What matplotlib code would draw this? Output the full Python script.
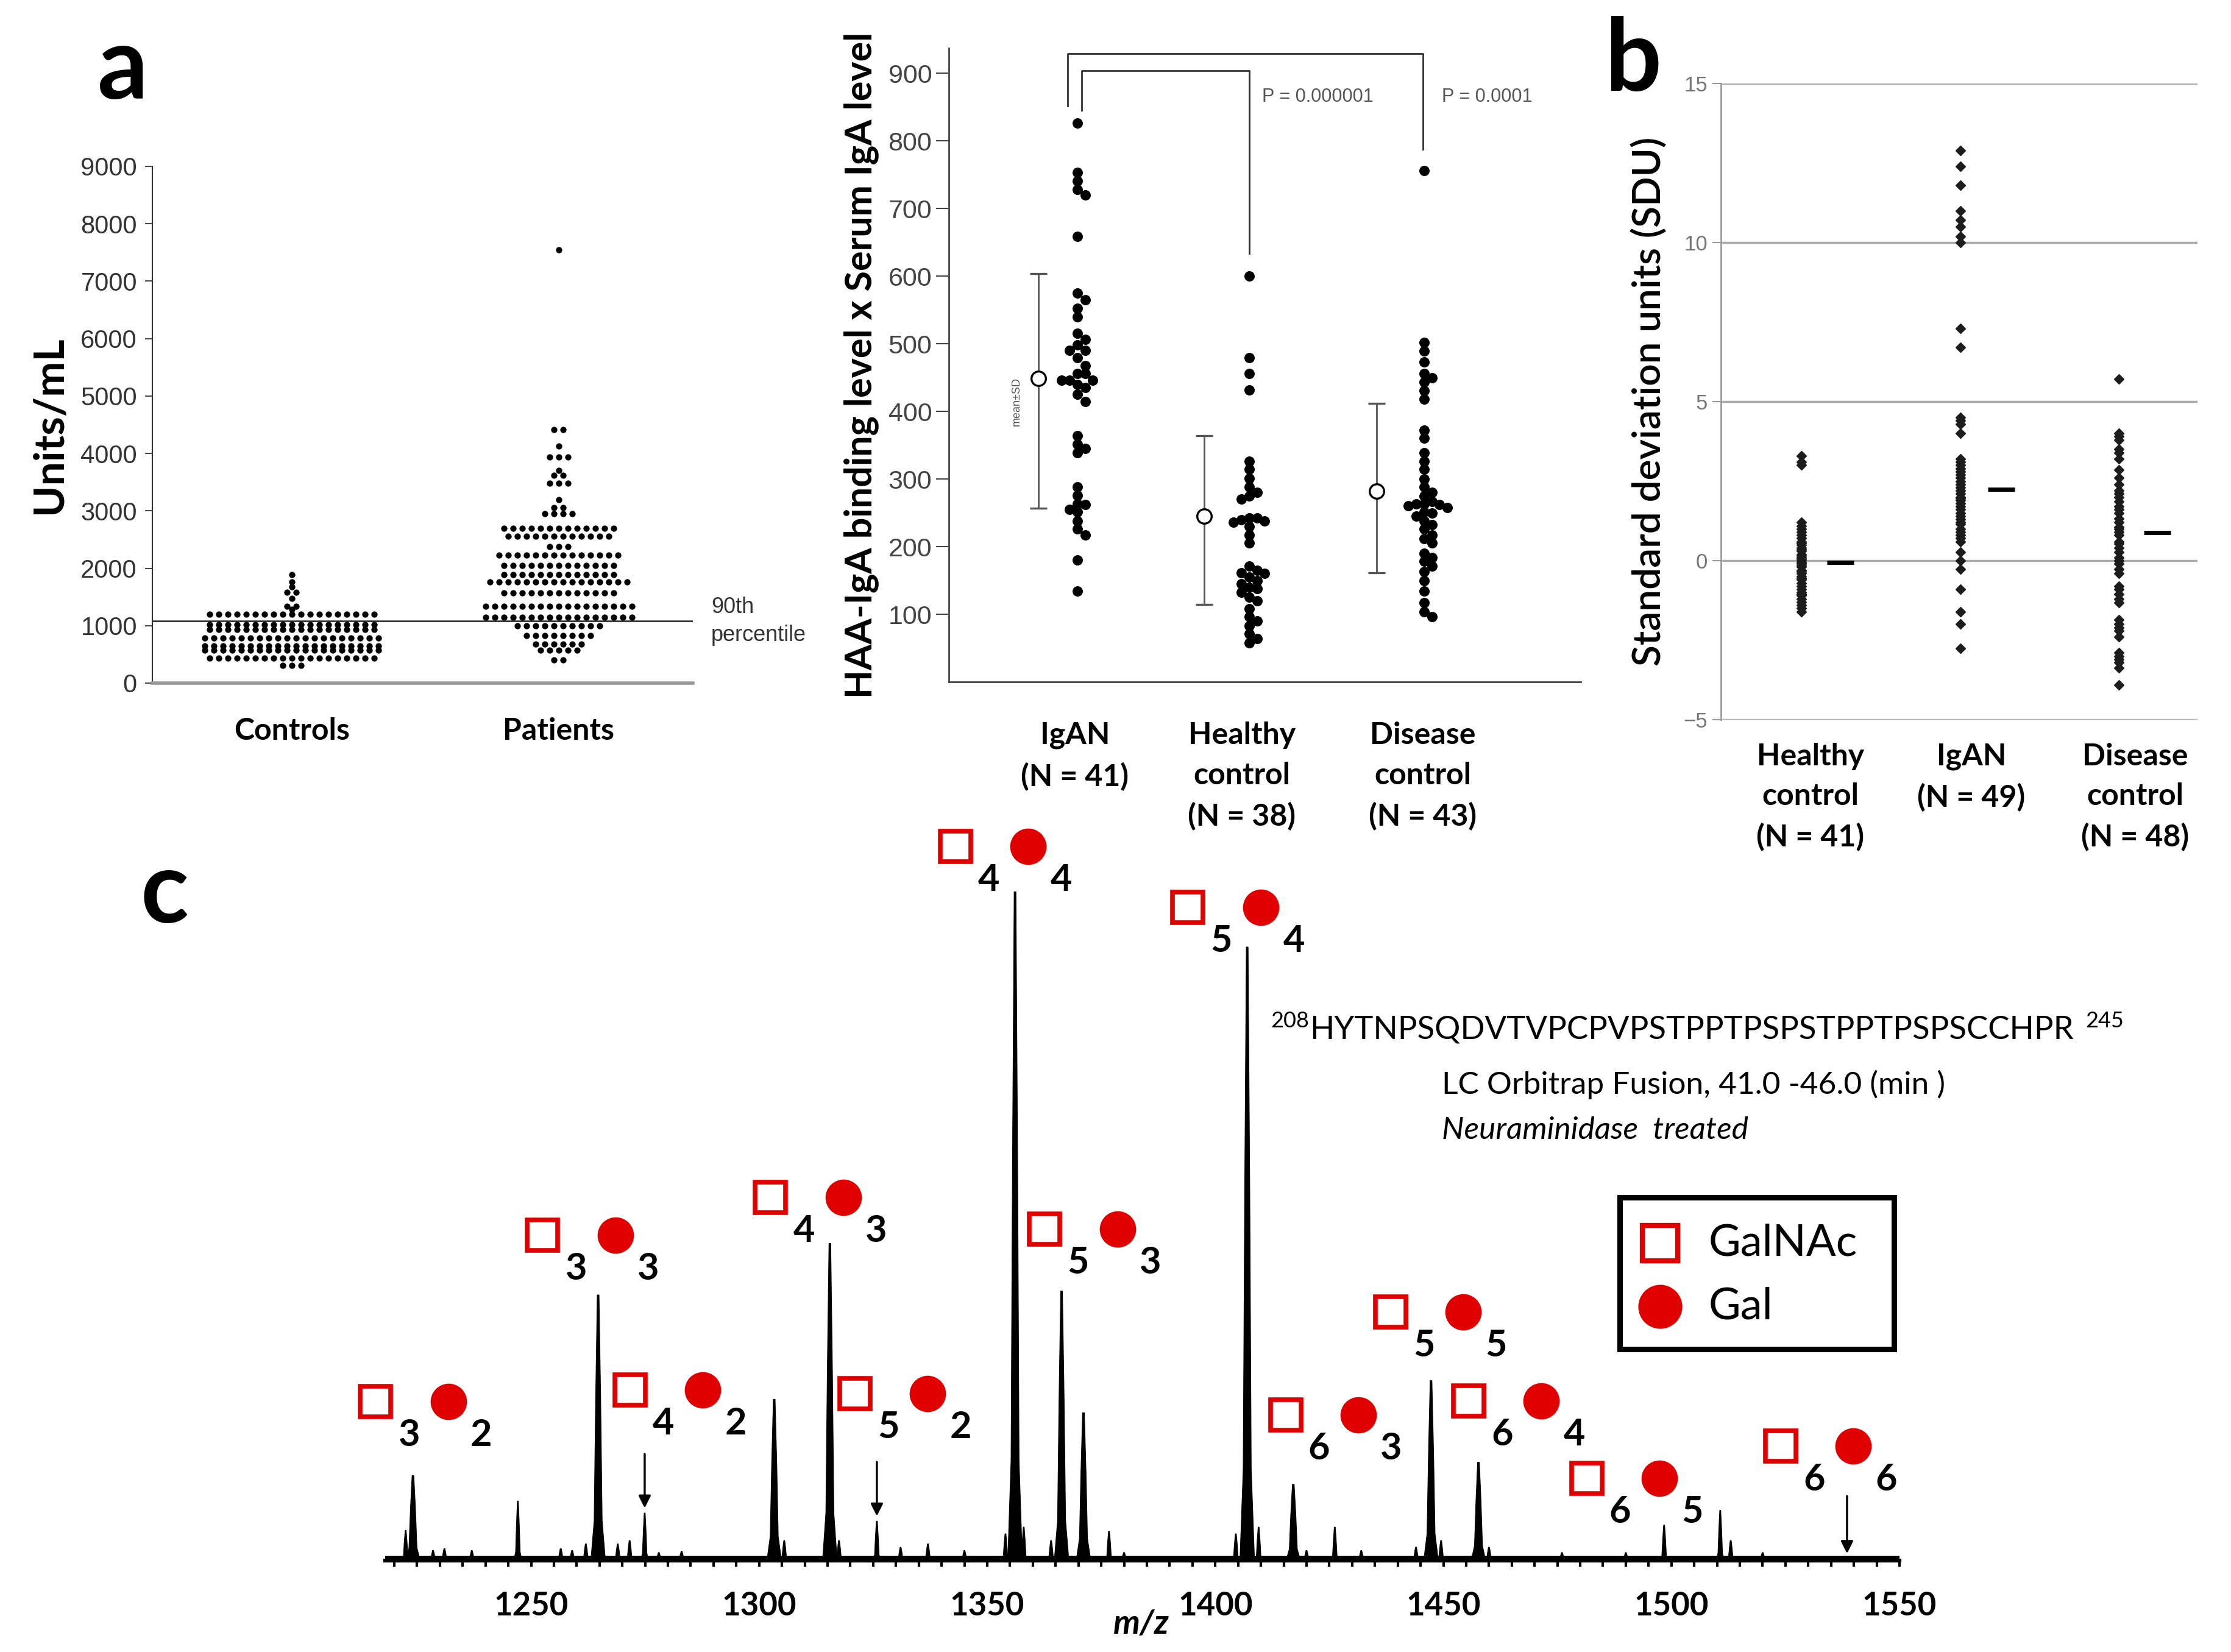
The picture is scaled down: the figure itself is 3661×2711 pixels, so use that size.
import numpy as np
import matplotlib
matplotlib.use('Agg')
import matplotlib.pyplot as plt
from matplotlib.ticker import MultipleLocator
from matplotlib.transforms import offset_copy

plt.rcParams['font.family'] = ['Lato', 'DejaVu Sans']

# ---------------- data ----------------
# panel a: dot-plot rows (level in Units/mL, number of dots in the row)
ctrl_levels = [1890, 1760, 1675, 1580, 1475, 1340, 1285, 1200, 1020, 935, 785, 650, 575, 435, 310]
ctrl_counts = [1, 1, 1, 2, 1, 2, 1, 19, 19, 19, 20, 20, 20, 19, 3]
pat_levels = [7550, 4414, 4131, 3936, 3706, 3618, 3480, 3194, 3056, 2950, 2700, 2557, 2377,
              2230, 2048, 1889, 1760, 1570, 1340, 1146, 997, 828, 679, 573, 403]
pat_counts = [1, 2, 1, 3, 1, 2, 3, 1, 2, 4, 13, 12, 3, 14, 13, 13, 16, 13, 17, 17, 10, 8, 6, 5, 2]
cutoff_90 = 1080
groups_a = ['Controls', 'Patients']

# middle panel: HAA-IgA binding x serum IgA
igan_vals = [826, 753, 741, 728, 720, 659, 575, 565, 552, 540, 515, 506, 498, 490, 490, 479,
             468, 456, 456, 446, 446, 446, 440, 435, 425, 414, 364, 351, 345, 339, 288, 276,
             263, 262, 255, 251, 238, 226, 217, 180, 134]
healthy_vals = [600, 479, 456, 432, 326, 314, 301, 288, 280, 275, 270, 242, 242, 240, 238, 236,
                230, 217, 205, 171, 165, 161, 160, 155, 150, 145, 140, 138, 132, 125, 120, 108,
                96, 90, 83, 71, 64, 58]
disease_vals = [756, 502, 489, 473, 456, 450, 443, 431, 418, 372, 360, 339, 326, 314, 300, 288,
                280, 275, 267, 263, 263, 262, 260, 258, 251, 250, 245, 238, 232, 226, 217, 212,
                205, 190, 184, 178, 171, 163, 150, 134, 117, 104, 96]
mid_means = [449, 245, 282]
mid_sd_hi = [604, 364, 412]
mid_sd_lo = [257, 114, 161]
mid_labels = ['IgAN\n(N = 41)', 'Healthy\ncontrol\n(N = 38)', 'Disease\ncontrol\n(N = 43)']
p_values = ['P = 0.000001', 'P = 0.0001']

# panel b: standard deviation units
sdu_healthy = [3.3, 3.1, 3.0, 1.2, 1.1, 1.0, 0.9, 0.8, 0.7, 0.6, 0.55, 0.5, 0.4, 0.35, 0.3, 0.2,
               0.15, 0.1, 0.05, 0.0, -0.05, -0.1, -0.15, -0.2, -0.3, -0.35, -0.4, -0.5, -0.55,
               -0.6, -0.7, -0.8, -0.9, -1.0, -1.05, -1.1, -1.2, -1.3, -1.4, -1.5, -1.6]
sdu_igan = [12.9, 12.4, 11.8, 11.0, 10.7, 10.5, 10.2, 10.0, 7.3, 6.7, 4.5, 4.4, 4.3, 4.0, 3.2,
            3.1, 3.0, 2.9, 2.8, 2.7, 2.6, 2.5, 2.4, 2.3, 2.2, 2.1, 2.0, 1.95, 1.9, 1.8, 1.7, 1.6,
            1.5, 1.4, 1.3, 1.2, 1.15, 1.0, 0.9, 0.8, 0.7, 0.6, 0.27, 0.0, -0.27, -0.9, -1.6,
            -2.0, -2.75]
sdu_disease = [5.7, 4.0, 3.9, 3.8, 3.5, 3.4, 3.2, 2.85, 2.6, 2.4, 2.2, 2.1, 2.0, 1.85, 1.7, 1.6,
               1.5, 1.33, 1.2, 1.06, 1.0, 0.9, 0.8, 0.6, 0.53, 0.4, 0.27, 0.1, 0.0, -0.1, -0.27,
               -0.4, -0.8, -0.9, -1.06, -1.2, -1.33, -1.86, -2.0, -2.1, -2.2, -2.4, -2.9, -3.0,
               -3.1, -3.2, -3.37, -3.9]
sdu_means = [-0.05, 2.25, 0.89]
b_labels = ['Healthy\ncontrol\n(N = 41)', 'IgAN\n(N = 49)', 'Disease\ncontrol\n(N = 48)']

# panel c: spectrum peaks (m/z, relative intensity)
peak_mz = [1222.5, 1224.1, 1228.5, 1231.0, 1237.0, 1247.1, 1256.5, 1259.0, 1262.0, 1264.7,
           1269.0, 1271.6, 1274.9, 1278.0, 1283.0, 1303.3, 1305.5, 1315.5, 1317.5, 1325.8,
           1331.0, 1337.0, 1345.0, 1354.0, 1356.1, 1358.0, 1364.0, 1366.3, 1371.1, 1376.7,
           1380.0, 1404.5, 1407.0, 1409.5, 1417.1, 1420.0, 1426.2, 1432.0, 1444.0, 1447.3,
           1449.5, 1457.7, 1460.0, 1476.0, 1490.0, 1498.4, 1510.7, 1513.0, 1520.0]
peak_int = [4.5, 12.7, 1.5, 1.8, 1.5, 8.9, 1.8, 1.5, 2.5, 39.7,
            2.5, 3.0, 7.1, 1.2, 1.4, 24.1, 3.0, 47.4, 3.0, 5.9,
            2.0, 2.5, 1.5, 4.0, 100.0, 5.0, 3.0, 40.3, 22.1, 4.4,
            1.2, 4.0, 91.7, 5.0, 11.4, 1.5, 5.0, 1.5, 2.0, 26.9,
            3.0, 14.7, 2.0, 1.2, 1.2, 5.3, 7.5, 3.0, 1.2]
glycans = [(3, 2), (3, 3), (4, 2), (4, 3), (5, 2), (4, 4), (5, 3), (5, 4),
           (6, 3), (5, 5), (6, 4), (6, 5), (6, 6)]
arrow_mz = [1274.9, 1325.8, 1538.5]

# ---------------- layout ----------------
W, H = 3662, 2711
fig = plt.figure(figsize=(W / 100, H / 100), dpi=100)
NARROW = ['Liberation Sans Narrow', 'Liberation Sans', 'DejaVu Sans']
RED = '#e00000'


def px_axes(l, t, r, b):
    return fig.add_axes([l / W, 1 - b / H, (r - l) / W, (b - t) / H])


def ftext(x, y, s, **kw):
    return fig.text(x / W, 1 - y / H, s, **kw)


def swarm_x(vals, center, diam, upp):
    placed, xs = [], []
    for v in vals:
        y = v / upp
        for k in [0, 1, -1, 2, -2, 3, -3, 4, -4]:
            x = center + k * diam * 0.75
            if all((x - px) ** 2 + (y - py) ** 2 >= (diam * 0.75) ** 2 for px, py in placed):
                break
        placed.append((x, y))
        xs.append(x)
    return xs


# panel letters
ftext(202, 162, 'a', fontsize=118, fontweight='bold', ha='center', va='baseline')
ftext(2681, 148, 'b', fontsize=118, fontweight='bold', ha='center', va='baseline')
ftext(270, 1514, 'c', fontsize=118, fontweight='bold', ha='center', va='baseline')

# ---- panel a ----
ax = px_axes(250, 273, 1137, 1121)
ax.set_xlim(0, 887)
ax.set_ylim(0, 9000)
a_centers = [229, 667]
for levels, counts, c in [(ctrl_levels, ctrl_counts, a_centers[0]),
                          (pat_levels, pat_counts, a_centers[1])]:
    xs, ys = [], []
    for v, n in zip(levels, counts):
        xs += list(c + (np.arange(n) - (n - 1) / 2) * 15)
        ys += [v] * n
    ax.scatter(xs, ys, s=55, c='black', lw=0, clip_on=False, zorder=3)
ax.axhline(cutoff_90, color='#222222', lw=1.8)
for s in ['top', 'right']:
    ax.spines[s].set_visible(False)
ax.spines['left'].set_color('#333333')
ax.spines['left'].set_linewidth(1.5)
ax.spines['bottom'].set_color('#9a9a9a')
ax.spines['bottom'].set_linewidth(4)
ax.set_yticks(np.arange(0, 9001, 1000))
ax.tick_params(axis='y', length=9, width=1.3, color='#333333', pad=9,
               labelsize=30, labelcolor='#333333')
for t in ax.get_yticklabels():
    t.set_family(NARROW)
ax.set_xticks(a_centers, groups_a)
ax.tick_params(axis='x', length=0, pad=40, labelsize=36)
for t in ax.get_xticklabels():
    t.set_fontweight('bold')
ax.set_ylabel('Units/mL', fontsize=50, fontweight='bold', labelpad=14)
ftext(1167, 996, '90th', fontsize=26, color='#333333', family=NARROW, va='center')
ftext(1167, 1042, 'percentile', fontsize=26, color='#333333', family=NARROW, va='center')

# ---- middle panel ----
am = px_axes(1557, 79, 2594, 1119)
am.set_xlim(0, 1037)
am.set_ylim(0, 937)
mean_x = [147, 419, 702]
dot_x = [211, 493, 780]
upp = 937 / 1040
for vals, c in zip([igan_vals, healthy_vals, disease_vals], dot_x):
    vs = sorted(vals, reverse=True)
    am.scatter(swarm_x(vs, c, 17, upp), vs, s=150, c='black', lw=0, zorder=3)
means = np.array(mid_means)
am.errorbar(mean_x, means, yerr=[means - np.array(mid_sd_lo), np.array(mid_sd_hi) - means],
            fmt='o', ms=17, mfc='white', mec='black', mew=2.4, ecolor='#555555',
            elinewidth=2, capsize=10, capthick=2, zorder=4)
am.text(mean_x[0] - 36, 414, 'mean±SD', rotation=90, fontsize=13, color='#555555',
        family=NARROW, ha='center', va='center')
am.plot([dot_x[0] - 16] * 2 + [dot_x[2] - 2] * 2, [851, 929, 929, 787],
        color='#333333', lw=2, clip_on=False)
am.plot([dot_x[0] + 7] * 2 + [dot_x[1]] * 2, [845, 904, 904, 633],
        color='#333333', lw=2, clip_on=False)
am.text(dot_x[1] + 21, 865, p_values[0], fontsize=22, color='#555555', family=NARROW, va='center')
am.text(dot_x[2] + 29, 865, p_values[1], fontsize=22, color='#555555', family=NARROW, va='center')
for s in ['top', 'right']:
    am.spines[s].set_visible(False)
for s in ['left', 'bottom']:
    am.spines[s].set_color('#444444')
    am.spines[s].set_linewidth(2)
am.set_yticks(np.arange(100, 901, 100))
am.tick_params(axis='y', length=15, width=1.5, color='#444444', pad=5,
               labelsize=31, labelcolor='#444444')
for t in am.get_yticklabels():
    t.set_family(NARROW)
am.set_xticks([207, 481, 778], mid_labels)
am.tick_params(axis='x', length=0, pad=47, labelsize=36)
for t in am.get_xticklabels():
    t.set_fontweight('bold')
    t.set_linespacing(1.55)
am.set_ylabel('HAA-IgA binding level x Serum IgA level', fontsize=44, fontweight='bold',
              labelpad=11)

# ---- panel b ----
ab = px_axes(2824, 137, 3606, 1181)
ab.set_xlim(0, 782)
ab.set_ylim(-5, 15)
b_dot_x = [132, 393, 653]
b_mean_x = [196, 460, 716]
for y in [-5, 0, 5, 10, 15]:
    ab.axhline(y, color='#ababab', lw=2.5, zorder=1)
for vals, c in zip([sdu_healthy, sdu_igan, sdu_disease], b_dot_x):
    ab.plot([c] * len(vals), vals, ls='none', marker='D', ms=8.6, color='#1c1c1c', zorder=3)
for m, c in zip(sdu_means, b_mean_x):
    ab.plot([c - 22, c + 22], [m, m], color='black', lw=5, solid_capstyle='butt')
for s in ['top', 'right', 'bottom']:
    ab.spines[s].set_visible(False)
ab.spines['left'].set_color('#9a9a9a')
ab.spines['left'].set_linewidth(2)
ab.set_yticks([-5, 0, 5, 10, 15])
ab.tick_params(axis='y', length=10, width=1.5, color='#9a9a9a', pad=6,
               labelsize=25, labelcolor='#777777')
for t in ab.get_yticklabels():
    t.set_family(['Liberation Sans', 'DejaVu Sans'])
ab.set_xticks([147, 411, 680], b_labels)
ab.tick_params(axis='x', length=0, pad=27, labelsize=36)
for t in ab.get_xticklabels():
    t.set_fontweight('bold')
    t.set_linespacing(1.55)
ab.set_ylabel('Standard deviation units (SDU)', fontsize=46, fontweight='semibold',
              labelpad=19)

# ---- panel c ----
ac = px_axes(632, 1463, 3117, 2561)
ac.set_xlim(1218, 1550)
ac.set_ylim(0, 100)
shape_x = np.array([-1, -0.55, -0.35, -0.12, 0.12, 0.35, 0.55, 1])
shape_y = np.array([0, 0.15, 0.6, 1, 1, 0.6, 0.15, 0])
for mz, h in zip(peak_mz, peak_int):
    w = 0.9 if h < 10 else 1.6
    ac.fill(mz + w * shape_x, h * shape_y, color='black', lw=0.8, ec='black')
ac.axhline(0.5, color='black', lw=5)
for s in ['top', 'right', 'left']:
    ac.spines[s].set_visible(False)
ac.spines['bottom'].set_linewidth(4.5)
ac.set_yticks([])
ac.xaxis.set_major_locator(MultipleLocator(50))
ac.xaxis.set_minor_locator(MultipleLocator(5))
ac.tick_params(axis='x', which='both', length=7, width=3, color='black')
ac.tick_params(axis='x', which='major', pad=29, labelsize=38)
for t in ac.get_xticklabels():
    t.set_fontweight('bold')
ftext(1873, 2665, 'm/z', fontsize=40, fontweight='bold', style='italic', ha='center', va='center')

# arrows marking expected positions
arrow_top = [16.2, 15.0, 9.9]
arrow_tip = [7.6, 6.4, 0.8]
for mz, y0, y1 in zip(arrow_mz, arrow_top, arrow_tip):
    ac.annotate('', xy=(mz, y1), xytext=(mz, y0),
                arrowprops=dict(arrowstyle='-|>', color='black', lw=2.5, mutation_scale=30))

# glycoform labels: anchor (m/z, intensity) of the GalNAc square
label_mz = [1215.9, 1252.5, 1271.7, 1302.5, 1321.0, 1343.0, 1362.6, 1394.0,
            1415.4, 1438.4, 1455.5, 1481.4, 1523.9]
label_y = [23.8, 48.6, 25.5, 54.3, 25.0, 106.7, 49.5, 97.6, 21.8, 37.2, 23.9, 12.3, 17.1]
circ_tr = offset_copy(ac.transData, fig=fig, x=86, y=0, units='points')
for (n_galnac, n_gal), mz, y in zip(glycans, label_mz, label_y):
    ac.plot(mz, y, marker='s', ms=36, mfc='none', mec=RED, mew=5.5, clip_on=False)
    ac.plot(mz, y, marker='o', ms=43, color=RED, mew=0, transform=circ_tr, clip_on=False)
    ac.annotate(str(n_galnac), (mz, y), xytext=(39.6, -39.6), textcoords='offset points',
                ha='center', va='center', fontsize=44, fontweight='bold', annotation_clip=False)
    ac.annotate(str(n_gal), (mz, y), xytext=(125, -39.6), textcoords='offset points',
                ha='center', va='center', fontsize=44, fontweight='bold', annotation_clip=False)

# peptide / acquisition text
ftext(2085, 1676, '208', fontsize=26, va='center')
ftext(2149, 1690, 'HYTNPSQDVTVPCPVPSTPPTPSPSTPPTPSPSCCHPR', fontsize=38, va='center')
ftext(3422, 1676, '245', fontsize=26, va='center')
ftext(2366, 1780, 'LC Orbitrap Fusion, 41.0 -46.0 (min )', fontsize=37, va='center')
ftext(2366, 1855, 'Neuraminidase  treated', fontsize=37, style='italic', va='center')

# legend box
al = px_axes(2658, 1965, 3108, 2214)
al.set_xlim(0, 450)
al.set_ylim(249, 0)
al.set_xticks([])
al.set_yticks([])
for s in al.spines.values():
    s.set_linewidth(6.5)
al.plot(66, 75, marker='s', ms=42, mfc='none', mec=RED, mew=6)
al.plot(66, 179, marker='o', ms=52, color=RED, mew=0)
al.text(146, 75, 'GalNAc', fontsize=52, va='center')
al.text(146, 179, 'Gal', fontsize=52, va='center')

fig.savefig('out.png', dpi=100)
